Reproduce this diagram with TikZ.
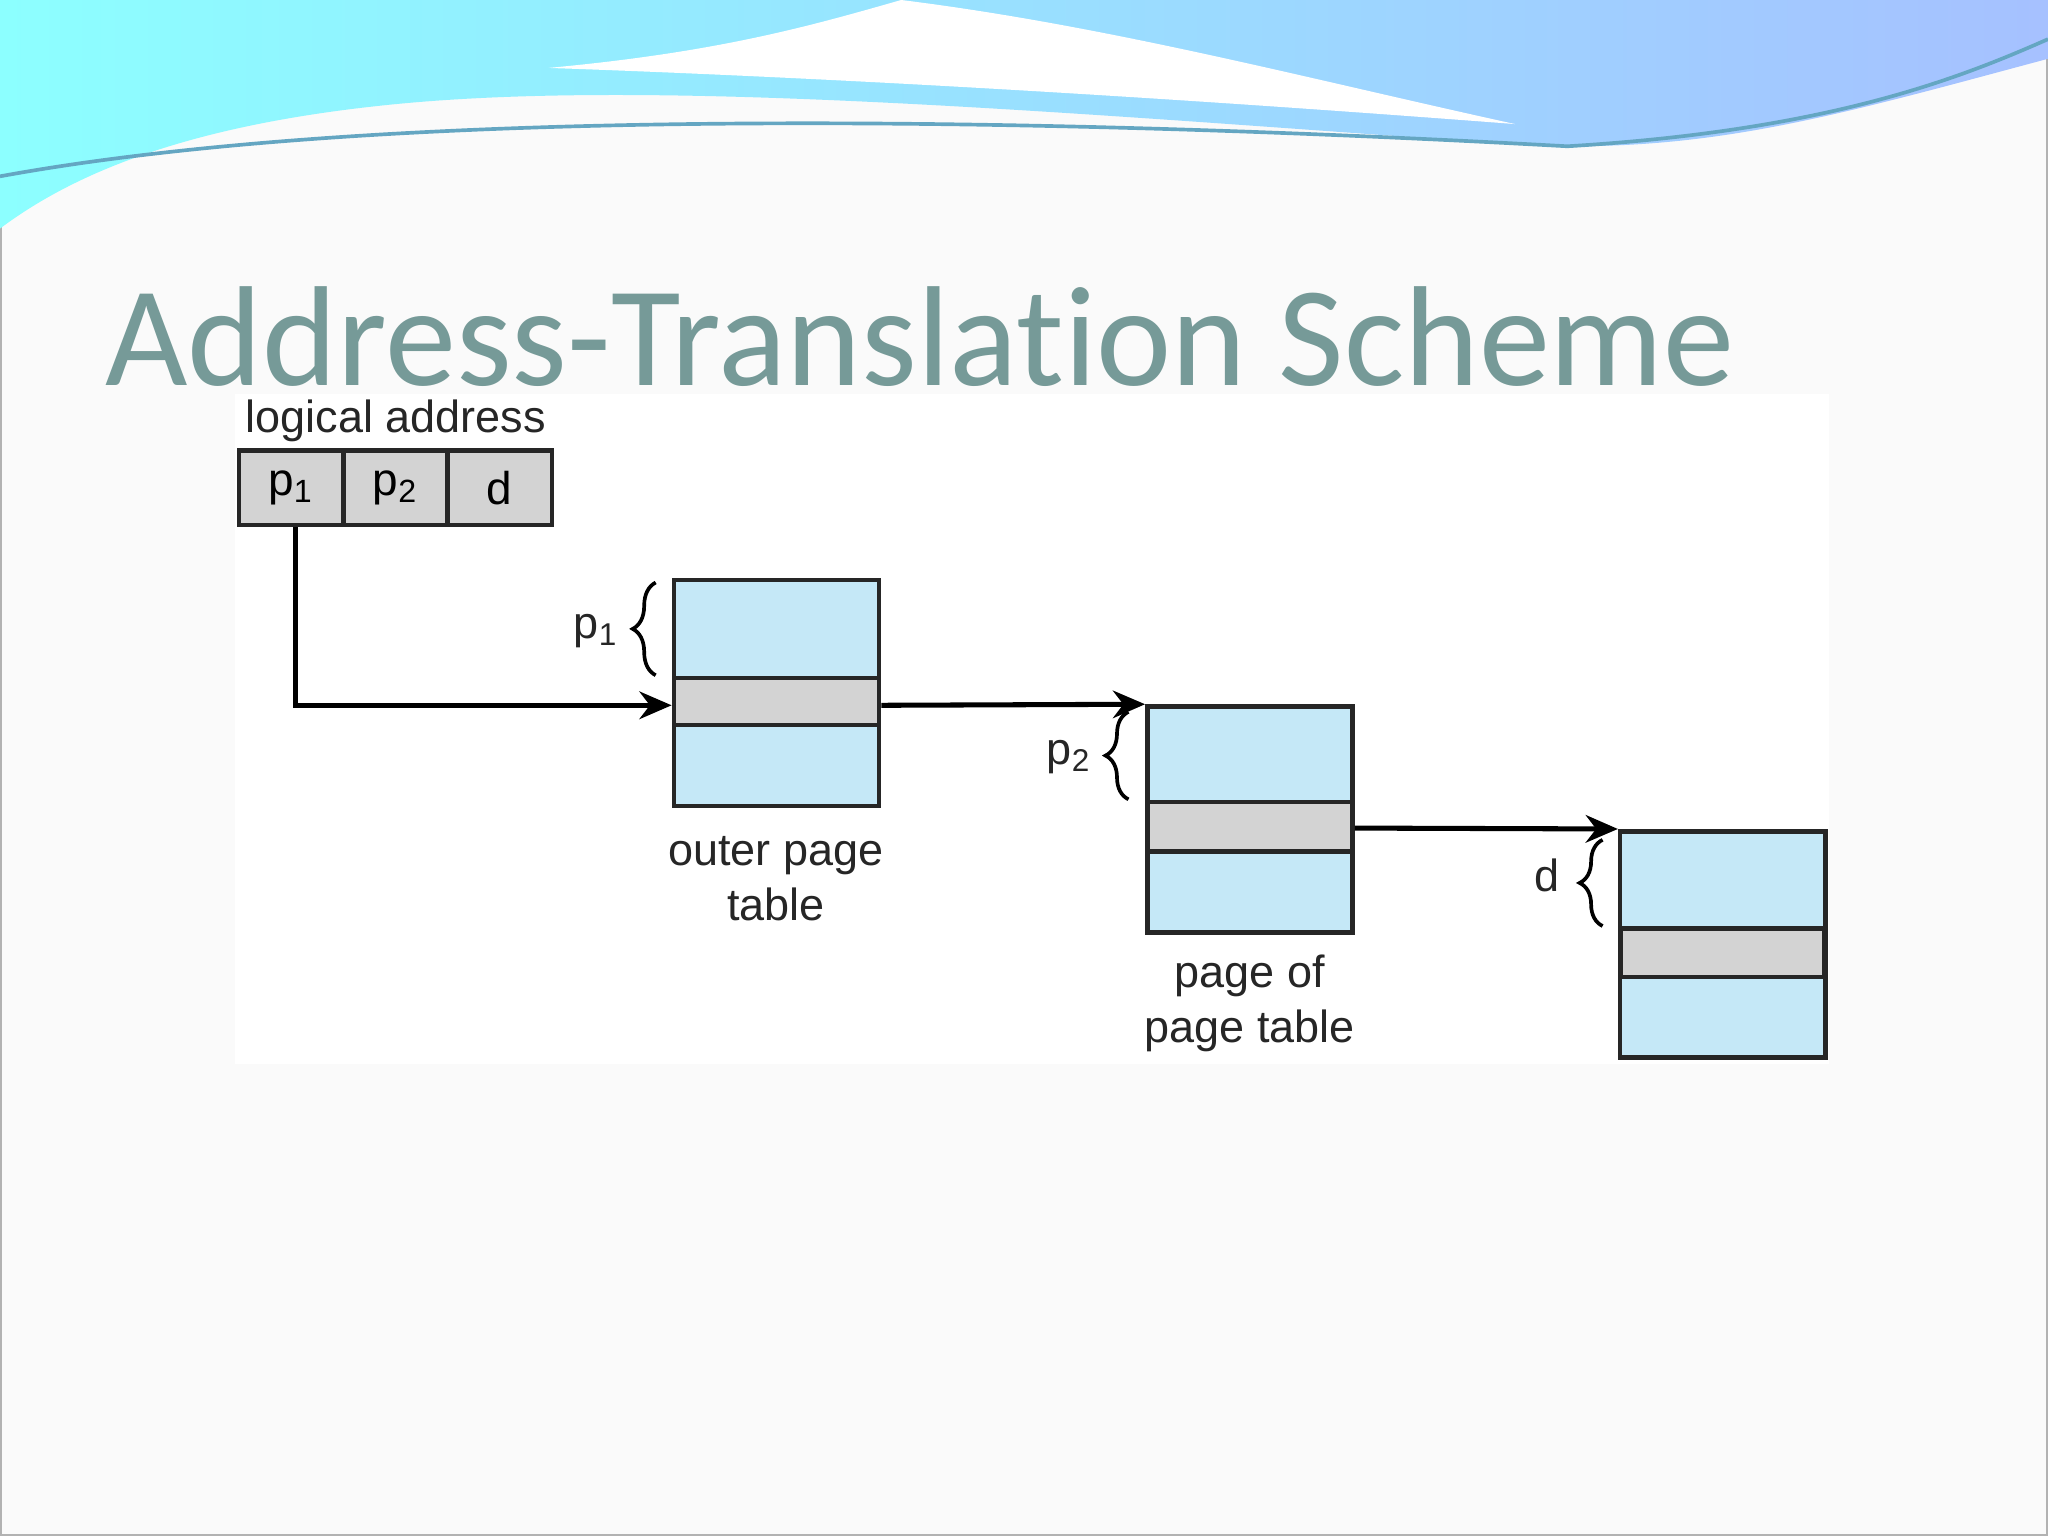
\documentclass[tikz,border=0pt]{standalone}
\usepackage{fontspec}
\setmainfont{Liberation Sans}
\newfontfamily\titlefont[Ligatures=NoCommon]{Carlito}
\usetikzlibrary{decorations.pathreplacing,arrows.meta}
\definecolor{cellgray}{HTML}{D3D3D3}
\definecolor{tblue}{HTML}{C5E8F7}
\definecolor{titlec}{HTML}{769A98}
\tikzset{
  cell/.style={draw=black!85, line width=1pt, fill=cellgray, minimum width=0.8cm, minimum height=0.57cm, inner sep=0pt, font=\fontsize{10}{12}\selectfont},
  tbl/.style={draw=black!85, line width=1pt, fill=tblue, minimum width=1.57cm, minimum height=1.73cm, inner sep=0pt},
  band/.style={draw=black!85, line width=1pt, fill=cellgray},
  conn/.style={line width=1.1pt, -{Stealth[length=7pt,width=6pt]}},
  lbl/.style={font=\fontsize{9.8}{12}\selectfont, align=center, text=black!85, inner sep=1pt},
  brc/.style={decorate, decoration={brace, amplitude=5pt}, line width=0.8pt}
}
\begin{document}
\begin{tikzpicture}[x=0.01cm,y=-0.01cm]
\useasboundingbox (0,0) rectangle (1568,1176);
\fill[white!96!gray] (0,0) rectangle (1568,1176);
\draw[gray!60] (0.5,0.5) rectangle (1567.5,1175.5);
% wave
\shade[left color=cyan!45, right color=cyan!30!blue!35] (0,0) -- (1568,0) -- (1568,45)
  .. controls (1400,90) and (1300,120) .. (1150,110)
  .. controls (800,85) and (500,60) .. (300,80)
  .. controls (150,95) and (60,130) .. (0,175) -- cycle;
\fill[white] (690,0) .. controls (850,20) and (1000,60) .. (1160,95)
  .. controls (900,75) and (650,60) .. (420,52)
  .. controls (550,40) and (620,20) .. (690,0) -- cycle;
\draw[cyan!50!gray, line width=0.8pt] (0,135) .. controls (300,80) and (800,90) .. (1200,112) .. controls (1400,100) and (1500,60) .. (1568,30);
% title
\node[anchor=base west, inner sep=0pt, text=titlec, font=\titlefont\fontsize{31}{34}\selectfont] (title) at (80,295) {Address-Translation Scheme};
% figure background
\fill[white] (180,302) rectangle (1400,815);
\node[lbl] (la) at (303,322) {logical address};
\node[cell] (c1) at (223,373.5) {p\textsubscript{1}};
\node[cell] (c2) at (303,373.5) {p\textsubscript{2}};
\node[cell] (c3) at (382.5,373.5) {d};
% tables
\node[tbl] (t1) at (594.5,530.5) {};
\filldraw[band] (516,519) rectangle (673,555);
\node[tbl] (t2) at (957,627.5) {};
\filldraw[band] (879,614) rectangle (1035,652);
\node[tbl] (t3) at (1319,723) {};
\filldraw[band] (1241,711) rectangle (1397,748);
% braces
\draw[brc] (502,517) -- (502,446);
\node[lbl, anchor=east] (b1) at (478,483) {p\textsubscript{1}};
\draw[brc] (864,612) -- (864,545);
\node[lbl, anchor=east] (b2) at (840,580) {p\textsubscript{2}};
\draw[brc] (1227,709) -- (1227,643);
\node[lbl, anchor=east] (b3) at (1198,670) {d};
% labels
\node[lbl] (o1) at (594,673) {outer page\\table};
\node[lbl] (o2) at (957,768) {page of\\page table};
% connectors
\coordinate (k1) at (226,540);
\draw[conn] (c1.south -| 226,0) -- (k1) -- (t1.west |- k1);
\draw[conn] (t1.east |- 0,540) -- (t2.north west);
\draw[conn] (t2.east |- 0,634) -- (t3.north west);
\end{tikzpicture}
\end{document}
